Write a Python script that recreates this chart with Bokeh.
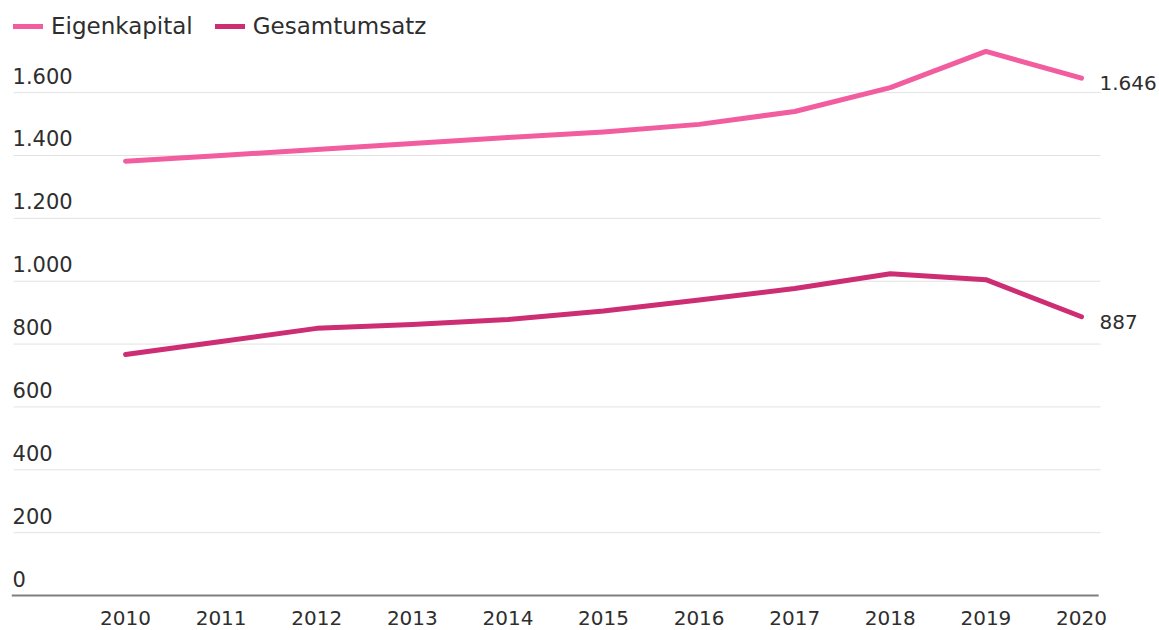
from bokeh.plotting import figure
from bokeh.models import Range1d, FixedTicker, ColumnDataSource
from bokeh.core.properties import value
from bokeh.embed import file_html
from bokeh.resources import INLINE

years = [2010, 2011, 2012, 2013, 2014, 2015, 2016, 2017, 2018, 2019, 2020]
eigenkapital = [1382, 1400, 1419, 1438, 1457, 1475, 1499, 1540, 1616, 1731, 1646]
gesamtumsatz = [767, 808, 850, 862, 878, 905, 940, 977, 1024, 1005, 887]
y_ticks = [0, 200, 400, 600, 800, 1000, 1200, 1400, 1600]
y_tick_labels = ["0", "200", "400", "600", "800", "1.000", "1.200", "1.400", "1.600"]
end_labels = ["1.646", "887"]

FONT = "DejaVu Sans"
TXT = "#2e2e2e"
PINK = "#f15d9f"
DARK = "#cc2d73"

p = figure(frame_width=1159, frame_height=598, output_backend="svg",
           toolbar_location=None, y_axis_location=None,
           x_range=Range1d(2008.692, 2020.816), y_range=Range1d(-9.5, 1893.1),
           min_border_left=0, min_border_right=0, min_border_top=0, min_border_bottom=32)
p.outline_line_color = None
p.xgrid.visible = False
p.ygrid.visible = False
p.background_fill_color = "white"
p.border_fill_color = "white"

# x axis
p.xaxis.ticker = FixedTicker(ticks=years)
p.xaxis.axis_line_color = None
p.xaxis.major_tick_line_color = None
p.xaxis.minor_tick_line_color = None
p.xaxis.major_tick_out = 0
p.xaxis.major_tick_in = 0
p.xaxis.major_label_standoff = 12
p.xaxis.major_label_text_font = FONT
p.xaxis.major_label_text_font_size = "20px"
p.xaxis.major_label_text_color = TXT

# gridlines
gx0, gx1 = 2008.83, 2020.2
grid_vals = [v for v in y_ticks if v != 0]
p.segment(x0=[gx0] * len(grid_vals), x1=[gx1] * len(grid_vals), y0=grid_vals, y1=grid_vals,
          line_color="#e2e2e2", line_width=1)
# baseline at 0
p.segment(x0=[gx0 - 0.02], x1=[gx1 - 0.02], y0=[0], y1=[0], line_color="#7f7f7f", line_width=2)

# y tick labels (above gridlines)
ysrc = ColumnDataSource(dict(x=[2008.818] * len(y_ticks), y=y_ticks, t=y_tick_labels))
p.text(x="x", y="y", text="t", source=ysrc, text_font=value(FONT), text_font_size="21px",
       text_color=TXT, text_baseline="middle", text_align="left", y_offset=-17)

# lines
p.line(years, eigenkapital, line_color=PINK, line_width=5, line_cap="round", line_join="round",
       legend_label="Eigenkapital")
p.line(years, gesamtumsatz, line_color=DARK, line_width=5, line_cap="round", line_join="round",
       legend_label="Gesamtumsatz")

# end labels
esrc = ColumnDataSource(dict(x=[years[-1], years[-1]], y=[eigenkapital[-1], gesamtumsatz[-1]], t=end_labels))
p.text(x="x", y="y", text="t", source=esrc, text_font=value(FONT), text_font_size="20px",
       text_color=TXT, text_baseline="middle", text_align="left", x_offset=18, y_offset=5)

lg = p.legend[0]
lg.location = "top_left"
lg.orientation = "horizontal"
lg.label_text_font = FONT
lg.label_text_font_size = "23px"
lg.label_text_color = TXT
lg.glyph_width = 30
lg.glyph_height = 20
lg.label_standoff = 8
lg.spacing = 22
lg.padding = 0
lg.margin = 13
lg.border_line_color = None
lg.background_fill_alpha = 0

open("out.html", "w").write(file_html(p, INLINE))
